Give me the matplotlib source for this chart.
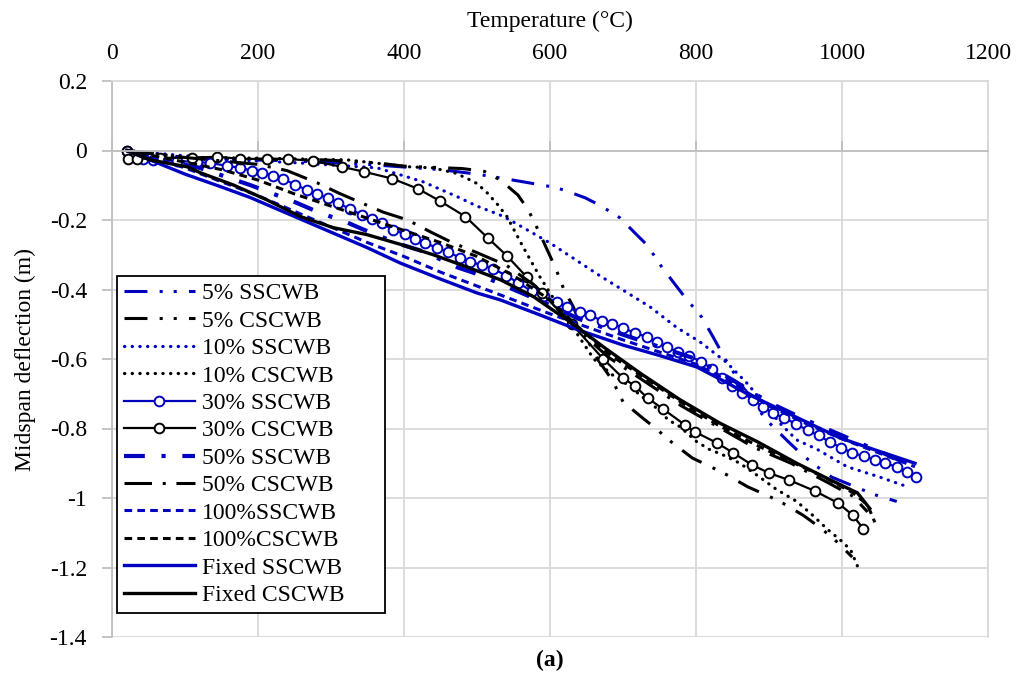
import matplotlib
matplotlib.use("Agg")
import matplotlib.pyplot as plt

plt.rcParams['font.family'] = ['Liberation Serif', 'DejaVu Serif']

BLUE = '#0000C0'

# ---- data (temperature degC, midspan deflection m)
t_s5 = [20, 60, 150, 250, 350, 450, 500, 532, 563, 601, 618, 648, 664, 681, 696, 719, 732, 742,
        753, 773, 784, 796, 808, 823, 840, 852, 870, 885, 901, 925, 945, 966, 986, 1015, 1044, 1075]
d_s5 = [0, -0.02, -0.025, -0.03, -0.04, -0.055, -0.068, -0.079, -0.09, -0.104, -0.113, -0.136, -0.153,
        -0.174, -0.194, -0.243, -0.27, -0.30, -0.335, -0.39, -0.42, -0.45, -0.48, -0.535, -0.6, -0.64,
        -0.70, -0.745, -0.785, -0.835, -0.875, -0.91, -0.94, -0.965, -0.99, -1.01]

t_c5 = [20, 100, 200, 290, 360, 400, 480, 510, 532, 556, 570, 584, 596, 608, 619, 632, 645, 665, 685,
        700, 727, 745, 767, 795, 820, 842, 871, 900, 919, 947, 970, 990, 1014]
d_c5 = [0, -0.02, -0.025, -0.027, -0.035, -0.045, -0.052, -0.06, -0.085, -0.128, -0.17, -0.23, -0.285,
        -0.34, -0.4, -0.45, -0.52, -0.6, -0.66, -0.723, -0.77, -0.8, -0.84, -0.885, -0.91, -0.933, -0.968,
        -0.995, -1.015, -1.05, -1.085, -1.12, -1.17]

t_s10 = [20, 150, 250, 363, 395, 426, 473, 500, 531, 545, 600, 668, 737, 774, 805, 842, 870, 900, 915,
         938, 966, 1007, 1052, 1093]
d_s10 = [0, -0.025, -0.035, -0.05, -0.07, -0.09, -0.133, -0.16, -0.185, -0.2, -0.266, -0.36, -0.45,
         -0.51, -0.55, -0.61, -0.67, -0.745, -0.785, -0.833, -0.86, -0.91, -0.94, -0.97]

t_c10 = [20, 100, 200, 322, 408, 440, 470, 486, 500, 514, 528, 541, 563, 586, 609, 630, 660, 685, 707,
         723, 744, 762, 778, 801, 819, 836, 860, 884, 910, 938, 960, 980, 1000, 1012, 1022]
d_c10 = [0, -0.02, -0.022, -0.027, -0.047, -0.05, -0.065, -0.08, -0.095, -0.122, -0.155, -0.19, -0.277,
         -0.363, -0.44, -0.505, -0.6, -0.645, -0.675, -0.703, -0.738, -0.775, -0.795, -0.838, -0.861,
         -0.875, -0.9, -0.935, -0.975, -1.01, -1.05, -1.09, -1.125, -1.15, -1.2]

t_s30 = [20, 42, 56, 89, 116, 134, 158, 175, 192, 205, 221, 234, 251, 267, 281, 296, 310, 326, 342, 356,
         370, 385, 401, 415, 429, 445, 460, 477, 490, 507, 522, 540, 556, 575, 592, 609, 623, 641, 655,
         671, 685, 700, 716, 733, 747, 760, 775, 790, 807, 822, 836, 849, 863, 878, 892, 905, 921, 937,
         953, 968, 984, 999, 1014, 1030, 1045, 1059, 1075, 1089, 1101]
d_s30 = [0, -0.024, -0.027, -0.03, -0.033, -0.036, -0.044, -0.05, -0.058, -0.064, -0.073, -0.081, -0.099,
         -0.113, -0.125, -0.138, -0.152, -0.168, -0.185, -0.198, -0.21, -0.228, -0.24, -0.254, -0.266,
         -0.28, -0.292, -0.309, -0.32, -0.33, -0.34, -0.36, -0.38, -0.405, -0.42, -0.436, -0.45, -0.466,
         -0.474, -0.49, -0.499, -0.51, -0.525, -0.536, -0.55, -0.565, -0.58, -0.59, -0.608, -0.628, -0.654,
         -0.677, -0.697, -0.717, -0.737, -0.755, -0.77, -0.787, -0.805, -0.82, -0.84, -0.855, -0.87, -0.88,
         -0.89, -0.9, -0.91, -0.925, -0.94]

t_c30 = [20, 22, 34, 66, 110, 144, 175, 212, 241, 275, 315, 345, 384, 419, 449, 484, 515, 541, 568, 589,
         630, 673, 700, 716, 734, 755, 785, 799, 829, 851, 877, 900, 927, 963, 995, 1015, 1029]
d_c30 = [0, -0.025, -0.024, -0.021, -0.021, -0.018, -0.024, -0.024, -0.024, -0.03, -0.047, -0.061,
         -0.081, -0.11, -0.145, -0.19, -0.252, -0.303, -0.364, -0.41, -0.5, -0.6, -0.655, -0.677, -0.713,
         -0.744, -0.79, -0.81, -0.842, -0.87, -0.905, -0.928, -0.948, -0.98, -1.015, -1.05, -1.088]

t_s50 = [20, 60, 120, 190, 250, 281, 322, 345, 395, 426, 474, 504, 550, 600, 640, 700, 750, 800, 850,
         900, 950, 1000, 1050, 1100]
d_s50 = [0, -0.022, -0.05, -0.1, -0.148, -0.176, -0.207, -0.228, -0.27, -0.29, -0.337, -0.358, -0.4,
         -0.445, -0.485, -0.53, -0.565, -0.6, -0.66, -0.725, -0.775, -0.82, -0.865, -0.91]

t_c50 = [20, 100, 200, 240, 281, 310, 342, 371, 405, 436, 467, 500, 540, 580, 630, 680, 730, 780, 830,
         880, 930, 980, 1015, 1035]
d_c50 = [0, -0.02, -0.04, -0.058, -0.093, -0.122, -0.151, -0.177, -0.2, -0.234, -0.266, -0.294, -0.33,
         -0.39, -0.5, -0.595, -0.665, -0.735, -0.795, -0.855, -0.9, -0.955, -0.995, -1.04]

t_s100 = [20, 60, 100, 150, 200, 250, 300, 350, 400, 450, 500, 550, 600, 640, 700, 750, 800, 850, 900,
          950, 1000, 1050, 1100]
d_s100 = [0, -0.025, -0.05, -0.09, -0.13, -0.175, -0.22, -0.265, -0.305, -0.35, -0.39, -0.43, -0.47,
          -0.5, -0.545, -0.58, -0.615, -0.67, -0.735, -0.785, -0.83, -0.87, -0.91]

t_c100 = [20, 80, 150, 200, 250, 300, 350, 400, 450, 500, 550, 600, 632, 680, 730, 780, 830, 880, 930,
          980, 1015, 1035, 1045]
d_c100 = [0, -0.025, -0.055, -0.085, -0.125, -0.16, -0.195, -0.23, -0.265, -0.305, -0.36, -0.43, -0.495,
          -0.585, -0.655, -0.725, -0.79, -0.845, -0.895, -0.945, -0.985, -1.02, -1.07]

t_sf = [20, 52, 100, 150, 189, 250, 300, 350, 395, 450, 500, 532, 586, 637, 700, 750, 801, 842, 870,
        897, 950, 997, 1050, 1100]
d_sf = [0, -0.027, -0.068, -0.105, -0.135, -0.19, -0.235, -0.28, -0.324, -0.37, -0.41, -0.43, -0.473,
        -0.515, -0.56, -0.59, -0.623, -0.668, -0.7, -0.727, -0.78, -0.827, -0.865, -0.9]

t_cf = [20, 52, 103, 121, 166, 212, 258, 303, 349, 395, 440, 486, 532, 577, 632, 673, 723, 778, 833,
        884, 938, 984, 1021, 1038]
d_cf = [0, -0.027, -0.047, -0.064, -0.099, -0.142, -0.19, -0.222, -0.242, -0.27, -0.3, -0.335, -0.372,
        -0.42, -0.5, -0.565, -0.64, -0.717, -0.785, -0.838, -0.9, -0.948, -0.985, -1.03]

labels = ['5% SSCWB', '5% CSCWB', '10% SSCWB', '10% CSCWB', '30% SSCWB', '30% CSCWB',
          '50% SSCWB', '50% CSCWB', '100%SSCWB', '100%CSCWB', 'Fixed SSCWB', 'Fixed CSCWB']

x_ticks = [0, 200, 400, 600, 800, 1000, 1200]
y_ticks = [0.2, 0, -0.2, -0.4, -0.6, -0.8, -1, -1.2, -1.4]
y_ticklabels = ['0.2', '0', '-0.2', '-0.4', '-0.6', '-0.8', '-1', '-1.2', '-1.4']

# line styles (dash lengths are in multiples of line width)
dashdotdot = (0, (7.5, 4, 1, 3.6, 1, 4))
dotted = (0, (0.1, 2.3))
dashdot_b = (0, (5, 4, 1, 4))
dashdot_k = (0, (9, 3.5, 1, 3.5))
dashed = (0, (2.5, 1.7))

styles = [
    dict(color=BLUE, lw=2.2, ls=dashdotdot),
    dict(color='k', lw=2.2, ls=dashdotdot),
    dict(color=BLUE, lw=2.3, ls=dotted, dash_capstyle='round'),
    dict(color='k', lw=2.3, ls=dotted, dash_capstyle='round'),
    dict(color=BLUE, lw=1.6, ls='-', marker='o', ms=7, mfc='white', mec=BLUE, mew=1.4),
    dict(color='k', lw=1.6, ls='-', marker='o', ms=7, mfc='white', mec='k', mew=1.4),
    dict(color=BLUE, lw=3.0, ls=dashdot_b),
    dict(color='k', lw=2.2, ls=dashdot_k),
    dict(color=BLUE, lw=2.2, ls=dashed),
    dict(color='k', lw=2.2, ls=dashed),
    dict(color=BLUE, lw=2.4, ls='-'),
    dict(color='k', lw=2.4, ls='-'),
]

data = [(t_s5, d_s5), (t_c5, d_c5), (t_s10, d_s10), (t_c10, d_c10), (t_s30, d_s30), (t_c30, d_c30),
        (t_s50, d_s50), (t_c50, d_c50), (t_s100, d_s100), (t_c100, d_c100), (t_sf, d_sf), (t_cf, d_cf)]

fig = plt.figure(figsize=(10.19, 6.81), dpi=100)
ax = fig.add_axes([112 / 1019, 1 - 637 / 681, 876 / 1019, 556 / 681])

for (t, d), lab, st in zip(data, labels, styles):
    ax.plot(t, d, label=lab, **st)

ax.set_xlim(0, 1200)
ax.set_ylim(-1.4, 0.2)
ax.set_xticks(x_ticks)
ax.set_yticks(y_ticks)
ax.set_yticklabels(y_ticklabels)
ax.grid(True, color='#d9d9d9', lw=1.3)
ax.set_axisbelow(True)

# x axis line sits at y=0, labels go on top like the Excel original
ax.spines['bottom'].set_position(('data', 0))
ax.spines['bottom'].set_color('#bfbfbf')
ax.spines['bottom'].set_linewidth(1.3)
ax.spines['left'].set_color('#bfbfbf')
ax.spines['left'].set_linewidth(1.3)
for s in ['top', 'right']:
    ax.spines[s].set_color('#d9d9d9')
    ax.spines[s].set_linewidth(1.3)

fs = 17
ax.tick_params(axis='x', bottom=True, top=False, labelbottom=False, labeltop=True,
               direction='in', length=7, width=1.3, color='#bfbfbf', labelsize=fs, pad=12)
ax.tick_params(axis='y', direction='out', length=7, width=1.3, color='#bfbfbf',
               labelsize=fs, pad=11)

ax.xaxis.set_label_position('top')
ax.set_xlabel('Temperature (°C)', fontsize=fs, labelpad=12)
ax.set_ylabel('Midspan deflection (m)', fontsize=fs, labelpad=10)

leg = ax.legend(loc='lower left', bbox_to_anchor=(0.0057, 0.043, 0.306, 0.604), mode='expand',
                fontsize=fs, frameon=True, fancybox=False, edgecolor='k', framealpha=1,
                handlelength=3.0, handletextpad=0.3, labelspacing=0.25, borderpad=0.3,
                borderaxespad=0)
leg.get_frame().set_linewidth(1.3)

fig.text(550 / 1019, 1 - 660 / 681, '(a)', ha='center', va='center', fontsize=fs, fontweight='bold')

fig.savefig('out.png', dpi=100)
